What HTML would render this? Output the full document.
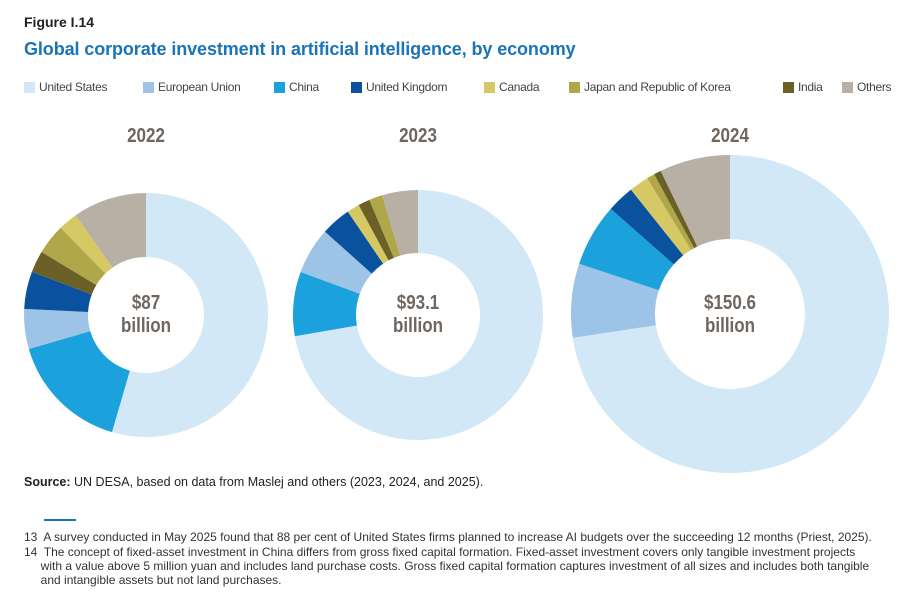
<!DOCTYPE html>
<html><head><meta charset="utf-8">
<style>
body{margin:0;width:915px;height:615px;background:#fff;font-family:"Liberation Sans",Arial,sans-serif;position:relative;overflow:hidden}
.abs{position:absolute}
#fig{left:24px;top:14px;font-size:14px;font-weight:bold;color:#222}
#title{left:24px;top:39px;font-size:18px;font-weight:bold;color:#1a74b8;letter-spacing:-0.1px}
.leg{position:absolute;top:80px;font-size:12px;color:#444;display:flex;align-items:center;letter-spacing:-0.3px}
.leg i{display:inline-block;width:11px;height:11px;margin-right:4px}
#src{left:24px;top:475px;font-size:12.5px;color:#222}
#rule{left:44px;top:519px;width:32px;height:2px;background:#1a74b8}
.fn{position:absolute;left:24px;font-size:12px;color:#333;line-height:14px;white-space:nowrap}
</style></head><body>
<div id="fig" class="abs">Figure I.14</div>
<div id="title" class="abs">Global corporate investment in artificial intelligence, by economy</div>
<div id="legend"></div>
<svg id="chart" class="abs" style="left:0;top:0" width="915" height="478"></svg>
<div id="src" class="abs"><b>Source:</b> UN DESA, based on data from Maslej and others (2023, 2024, and 2025).</div>
<div id="rule" class="abs"></div>
<div class="fn" style="top:530px">13&nbsp; A survey conducted in May 2025 found that 88 per cent of United States firms planned to increase AI budgets over the succeeding 12 months (Priest, 2025).</div>
<div class="fn" style="top:545px">14&nbsp; The concept of fixed-asset investment in China differs from gross fixed capital formation. Fixed-asset investment covers only tangible investment projects<br>&nbsp;&nbsp;&nbsp;&nbsp;&nbsp;with a value above 5 million yuan and includes land purchase costs. Gross fixed capital formation captures investment of all sizes and includes both tangible<br>&nbsp;&nbsp;&nbsp;&nbsp;&nbsp;and intangible assets but not land purchases.</div>
<script>
const economies=["United States","European Union","China","United Kingdom","Canada","Japan and Republic of Korea","India","Others"];
const colors=["#d3e8f6","#9dc3e6","#1ba1dc","#0b529e","#d7c866","#b0a64a","#6b6025","#b8afa5"];
const years=["2022","2023","2024"];
const totals=["$87","$93.1","$150.6"];
// values in $ billion, legend order
const v2022=[47.3,4.6,13.9,4.3,2.2,3.5,2.5,8.5];
const v2023=[67,5.6,7.7,3.6,1.5,1.6,1.4,4.3];
const v2024=[109.2,11.3,9.6,4.2,3,1.2,1.1,10.8];
// drawing order (indices into economies), clockwise from top
const o2022=[0,2,1,3,6,5,4,7];
const o2023=[0,2,1,3,4,6,5,7];
const o2024=[0,1,2,3,4,5,6,7];
const legX=[24,143,274,351,484,569,783,842];
const lg=document.getElementById('legend');
economies.forEach((e,i)=>{const d=document.createElement('div');d.className='leg';d.style.left=legX[i]+'px';


d.innerHTML='<i style="background:'+colors[i]+'"></i>'+e;lg.appendChild(d);});
const svg=document.getElementById('chart');const NS='http://www.w3.org/2000/svg';
const geo=[{cx:146,cy:315,r:122,ri:58},{cx:418,cy:315,r:125,ri:62},{cx:730,cy:314,r:159,ri:75}];
const vals=[v2022,v2023,v2024],ords=[o2022,o2023,o2024];
function pt(cx,cy,r,a){return [cx+r*Math.sin(a),cy-r*Math.cos(a)];}
function label(s,x,y,name){const t=document.createElementNS(NS,'text');
t.setAttribute('transform',`translate(${x},${y}) scale(0.85,1)`);t.setAttribute('text-anchor','middle');
t.setAttribute('font-size','20');t.setAttribute('font-weight','bold');t.setAttribute('fill','#6f6660');t.textContent=s;


svg.appendChild(t);}
vals.forEach((vs,k)=>{const g=geo[k];const sum=vs.reduce((a,b)=>a+b,0);let a0=0;
ords[k].forEach(i=>{const a1=a0+vs[i]/sum*2*Math.PI;const lf=(a1-a0)>Math.PI?1:0;
const p1=pt(g.cx,g.cy,g.r,a0),p2=pt(g.cx,g.cy,g.r,a1),p3=pt(g.cx,g.cy,g.ri,a1),p4=pt(g.cx,g.cy,g.ri,a0);
const p=document.createElementNS(NS,'path');
p.setAttribute('d',`M${p1}A${g.r},${g.r} 0 ${lf} 1 ${p2}L${p3}A${g.ri},${g.ri} 0 ${lf} 0 ${p4}Z`);
p.setAttribute('fill',colors[i]);


svg.appendChild(p);a0=a1;});
label(years[k],g.cx,142,'year-label');
label(totals[k],g.cx,309,'total-label');
label('billion',g.cx,332,'total-unit-label');
});
</script>
</body></html>
